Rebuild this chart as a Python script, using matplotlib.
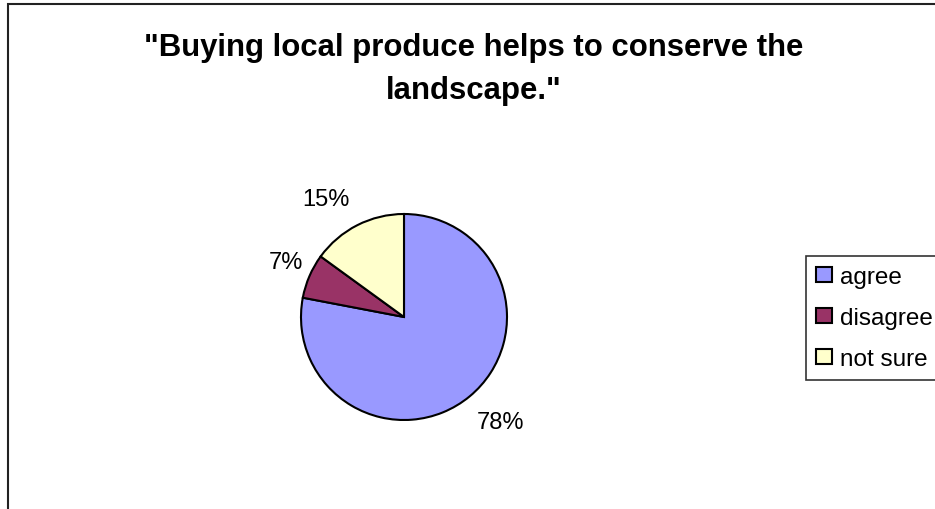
import numpy as np
import matplotlib
matplotlib.use("Agg")
import matplotlib.pyplot as plt
from matplotlib.patches import Rectangle

plt.rcParams['font.family'] = ['Liberation Sans', 'DejaVu Sans']

# data
labels = ["agree", "disagree", "not sure"]
shares = [78, 7, 15]
colors = ["#9999FF", "#993366", "#FFFFCC"]
title = "\"Buying local produce helps to conserve the\nlandscape.\""

W, H = 935, 510
fig = plt.figure(figsize=(W / 100, H / 100), dpi=100)

# outer chart border (runs off right / bottom edge like the reference)
fig.patches.append(Rectangle((8 / W, -0.05), 1.2, 1.05 - 5 / H, transform=fig.transFigure,
                             fill=False, edgecolor="#222222", linewidth=1.5))

# pie axes: centre (404, 318) px, radius 103 px
cx, cy, r = 404, 318, 103
ax = fig.add_axes([(cx - r) / W, (H - cy - r) / H, 2 * r / W, 2 * r / H])
wedges, texts, autotexts = ax.pie(shares, colors=colors, startangle=90, counterclock=False,
                                  autopct='%1.0f%%', pctdistance=1.35,
                                  wedgeprops=dict(edgecolor="black", linewidth=1.5),
                                  textprops=dict(fontsize=17, color="black"))
ax.set_xlim(-1, 1)
ax.set_ylim(-1, 1)
ax.axis('off')

# move percent labels to where excel put them (distance in radii, angle nudge in deg)
dist = [1.39, 1.26, 1.37]
nudge = [3, -1.6, 6.5]
for w, t, d, n in zip(wedges, autotexts, dist, nudge):
    ang = np.deg2rad((w.theta1 + w.theta2) / 2 + n)
    t.set_position((d * np.cos(ang), d * np.sin(ang)))
    t.set_ha("center")
    t.set_va("center")

# title, two lines, sized so first line spans about 136..812 px
line1, line2 = title.split("\n")
t1 = fig.text(474 / W, 1 - 56 / H, line1, ha="center", va="baseline", fontsize=19, fontweight="bold")
fig.canvas.draw()
wpx = t1.get_window_extent().width
fs = 19 * 660 / wpx
t1.set_fontsize(fs)
fig.text(474 / W, 1 - 99 / H, line2, ha="center", va="baseline", fontsize=fs, fontweight="bold")

leg = fig.legend(wedges, labels, loc="upper left", bbox_to_anchor=(806 / W, 1 - 257 / H),
                 fontsize=17.5, frameon=True, fancybox=False, shadow=False,
                 handlelength=0.63, handleheight=0.58, handletextpad=0.35,
                 labelspacing=0.78, borderpad=0.42, borderaxespad=0)
leg.get_frame().set_edgecolor("black")
leg.get_frame().set_linewidth(1.2)
for h in leg.legend_handles:
    h.set_linewidth(1.5)

plt.savefig("out.png", dpi=100)
